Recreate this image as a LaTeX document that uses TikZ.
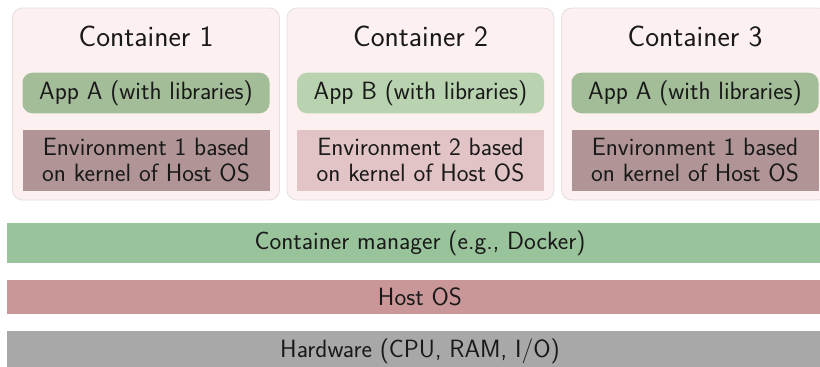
\documentclass[tikz,border=0pt]{standalone}
\usetikzlibrary{positioning}
\definecolor{contfill}{RGB}{253,240,240}
\definecolor{contdraw}{RGB}{228,222,222}
\definecolor{appA}{RGB}{163,189,152}
\definecolor{appB}{RGB}{185,211,176}
\definecolor{envA}{RGB}{176,148,150}
\definecolor{envB}{RGB}{226,196,198}
\definecolor{mgr}{RGB}{153,195,154}
\definecolor{hostos}{RGB}{201,151,151}
\definecolor{hw}{RGB}{168,168,168}
\definecolor{txt}{RGB}{25,25,25}
\tikzset{
  container/.style={draw=contdraw, line width=0.8pt, fill=contfill, rounded corners=10pt,
    minimum width=267pt, minimum height=192pt, inner sep=0pt, outer sep=0pt, anchor=north west},
  ctitle/.style={font=\sffamily\fontsize{29.5}{32}\selectfont, text=txt, inner sep=0pt},
  appbox/.style={rounded corners=10pt, minimum width=247pt, minimum height=40.6pt,
    inner sep=0pt, outer sep=0pt, text=txt, font=\sffamily\fontsize{25}{26}\selectfont},
  envbox/.style={minimum width=247pt, minimum height=60.7pt, inner sep=0pt, outer sep=0pt,
    text=txt, align=center, font=\sffamily\fontsize{25}{26}\selectfont},
  bar/.style={minimum width=826pt, inner sep=0pt, outer sep=0pt, anchor=north west,
    text=txt, font=\sffamily\fontsize{25}{26}\selectfont},
}
\begin{document}
\begin{tikzpicture}[x=1pt,y=-1pt]
\useasboundingbox (0,0) rectangle (820,367);
\clip (0,0) rectangle (820,367);
% containers
\node[container] (c1) at (12.5,8) {};
\node[container] (c2) at (287,8) {};
\node[container] (c3) at (561.5,8) {};
\foreach \c/\n in {c1/1,c2/2,c3/3}{
  \node[ctitle] (t\n) at ([yshift=-28.5pt]\c.north) {Container \n};
}
\node[appbox, fill=appA] (a1) at ([yshift=-85pt]c1.north) {App A (with libraries)};
\node[appbox, fill=appB] (a2) at ([yshift=-85pt]c2.north) {App B (with libraries)};
\node[appbox, fill=appA] (a3) at ([yshift=-85pt]c3.north) {App A (with libraries)};
\node[envbox, fill=envA] (e1) at ([yshift=-152.5pt]c1.north) {Environment 1 based\\on kernel of Host OS};
\node[envbox, fill=envB] (e2) at ([yshift=-152.5pt]c2.north) {Environment 2 based\\on kernel of Host OS};
\node[envbox, fill=envA] (e3) at ([yshift=-152.5pt]c3.north) {Environment 1 based\\on kernel of Host OS};
% layers
\node[bar, fill=mgr, minimum height=40.6pt] (mgrbar) at (7,222.7) {Container manager (e.g., Docker)};
\node[bar, fill=hostos, minimum height=34.3pt] (osbar) at (7,280) {Host OS};
\node[bar, fill=hw, minimum height=40pt] (hwbar) at (7,331) {Hardware (CPU, RAM, I/O)};
\end{tikzpicture}
\end{document}
